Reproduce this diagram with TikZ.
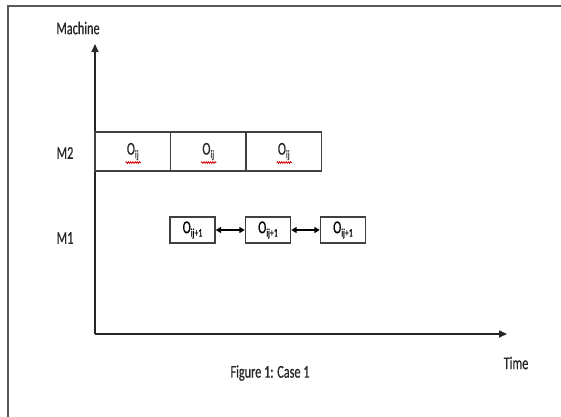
\documentclass[tikz,border=0pt]{standalone}
\usepackage{fontspec}
\setmainfont[FakeStretch=0.68,FakeBold=0.6]{Carlito}
\usetikzlibrary{arrows.meta,decorations.pathmorphing}
\begin{document}
\fontsize{18}{21}\selectfont
\begin{tikzpicture}[x=1pt,y=-1pt,
  axis/.style={draw=black!85,line width=1.6pt,-{Triangle[length=8pt,width=7pt]}},
  slot/.style={draw=black!75,line width=1.4pt,minimum width=75.5pt,minimum height=39pt,inner sep=0pt},
  subop/.style={draw=black!75,line width=1.4pt,minimum width=45pt,minimum height=26pt,inner sep=0pt},
  link/.style={draw=black,line width=1.5pt,{Triangle[length=5.5pt,width=6pt]}-{Triangle[length=5.5pt,width=6pt]}},
  lbl/.style={inner sep=0pt,text=black!85},
  spell/.style={draw=red!85!black,line width=0.7pt,decorate,decoration={zigzag,amplitude=0.9pt,segment length=2.2pt}}]
\useasboundingbox (0,0) rectangle (561,416);
% page frame
\draw[draw=black!65,line width=2pt] (7.5,420) -- (7.5,5.5) -- (565,5.5);

% axes
\coordinate (origin) at (95,334);
\coordinate (ytip) at (95,44);
\coordinate (xtip) at (507,334);
\draw[axis] (origin) -- (ytip);
\draw[axis] (origin) -- (xtip);

\node[lbl] (machine) at (78,28) {Machine};
\node[lbl] (time) at (516,363) {Time};
\node[lbl] (caption) at (270,373) {Figure 1: Case 1};
\node[lbl] (m2) at (65,153) {M2};
\node[lbl] (m1) at (65,238) {M1};

% operations on M2
\node[slot] (a1) at (132.75,151.5) {};
\node[slot] (a2) at (208.25,151.5) {};
\node[slot] (a3) at (283.75,151.5) {};
\foreach \n in {a1,a2,a3}{
  \node[lbl] (\n t) at (\n) {O\raisebox{-0.4ex}{\fontsize{11.5}{13}\selectfont ij}};
  \draw[spell] ([xshift=-7pt,yshift=-11pt]\n.center) -- ([xshift=8pt,yshift=-11pt]\n.center);
}

% operations on M1
\node[subop] (b1) at (192.5,230) {O\raisebox{-0.4ex}{\fontsize{11.5}{13}\selectfont ij+1}};
\node[subop] (b2) at (268,230) {O\raisebox{-0.4ex}{\fontsize{11.5}{13}\selectfont ij+1}};
\node[subop] (b3) at (343,230) {O\raisebox{-0.4ex}{\fontsize{11.5}{13}\selectfont ij+1}};
\draw[link] (b1) -- (b2);
\draw[link] (b2) -- (b3);
\end{tikzpicture}
\end{document}
